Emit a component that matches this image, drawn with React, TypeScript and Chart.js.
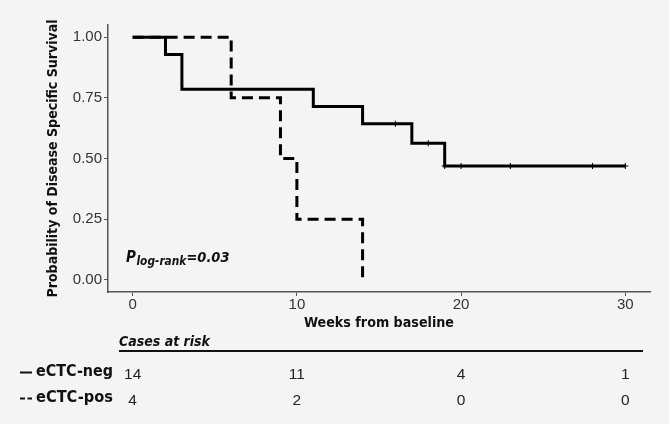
import React, { useEffect, useRef } from "react";
import { Chart, registerables } from "chart.js";

Chart.register(...registerables);

// ---- data ----
const negTimes = [0, 2, 3, 11, 14, 17, 19, 30];
const negSurv = [1, 0.9286, 0.7857, 0.7143, 0.6429, 0.5625, 0.4688, 0.4688];
const negCensorTimes = [16, 18, 19, 20, 23, 28, 30];
const negCensorSurv = [0.6429, 0.5625, 0.4688, 0.4688, 0.4688, 0.4688, 0.4688];
const posTimes = [0, 6, 9, 10, 14];
const posSurv = [1, 0.75, 0.5, 0.25, 0];
const xTicks = [0, 10, 20, 30];
const yTicks = [0, 0.25, 0.5, 0.75, 1];
const riskTimes = [0, 10, 20, 30];
const groupNames = ["eCTC-neg", "eCTC-pos"];
const riskNeg = [14, 11, 4, 1];
const riskPos = [4, 2, 0, 0];
const xTitle = "Weeks from baseline";
const yTitle = "Probability of Disease Specific Survival";
const riskTitle = "Cases at risk";
const pMain = "P";
const pSub = "log-rank";
const pValue = "=0.03";

const W = 669;
const H = 424;
const BOLD = '"DejaVu Sans Condensed", "DejaVu Sans", sans-serif';

function fitText(ctx: CanvasRenderingContext2D, text: string, x: number, y: number, width: number) {
  const w = ctx.measureText(text).width;
  ctx.save();
  ctx.translate(x, y);
  ctx.scale(width / w, 1);
  ctx.fillText(text, 0, 0);
  ctx.restore();
}

const overlay = {
  id: "overlay",
  afterDraw(chart: any) {
    const ctx = chart.ctx as CanvasRenderingContext2D;
    const { left, right, top, bottom } = chart.chartArea;
    const xs = chart.scales.x;
    const ys = chart.scales.y;
    ctx.save();
    ctx.fillStyle = "#111";
    ctx.strokeStyle = "#111";

    // y title
    ctx.save();
    ctx.font = `bold 14px ${BOLD}`;
    ctx.textAlign = "center";
    ctx.textBaseline = "middle";
    ctx.translate(53, (top + bottom) / 2);
    ctx.rotate(-Math.PI / 2);
    fitText(ctx, yTitle, 0, 0, 278);
    ctx.restore();

    // x title
    ctx.font = `bold 14px ${BOLD}`;
    ctx.textAlign = "center";
    ctx.textBaseline = "alphabetic";
    fitText(ctx, xTitle, (left + right) / 2, 327, 150);

    // p-value annotation
    let px = xs.getPixelForValue(-0.4);
    const py = ys.getPixelForValue(0.074);
    ctx.textAlign = "left";
    ctx.font = `italic bold 15px ${BOLD}`;
    ctx.fillText(pMain, px, py);
    px += ctx.measureText(pMain).width + 0.5;
    ctx.font = `italic bold 11.8px ${BOLD}`;
    ctx.fillText(pSub, px, py + 3);
    px += ctx.measureText(pSub).width;
    ctx.font = `italic bold 14.5px ${BOLD}`;
    ctx.fillText(pValue, px, py);

    // risk table header
    ctx.font = `italic bold 14px ${BOLD}`;
    fitText(ctx, riskTitle, 119, 346, 91);
    ctx.lineWidth = 2;
    ctx.beginPath();
    ctx.moveTo(119, 351);
    ctx.lineTo(643, 351);
    ctx.stroke();

    // legend keys
    const rowY = [372.5, 398.5];
    ctx.lineWidth = 2;
    ctx.beginPath();
    ctx.moveTo(20, rowY[0]);
    ctx.lineTo(32, rowY[0]);
    ctx.stroke();
    ctx.setLineDash([5, 2.5]);
    ctx.beginPath();
    ctx.moveTo(20, rowY[1]);
    ctx.lineTo(32, rowY[1]);
    ctx.stroke();
    ctx.setLineDash([]);

    ctx.font = `bold 15px ${BOLD}`;
    ctx.textBaseline = "middle";
    groupNames.forEach((g, i) => fitText(ctx, g, 36, rowY[i], 77));

    // risk numbers
    ctx.font = '15.5px "Liberation Sans"';
    ctx.textAlign = "center";
    ctx.fillStyle = "#222";
    const rows = [riskNeg, riskPos];
    rows.forEach((r, i) => {
      r.forEach((n, j) => {
        ctx.fillText(String(n), xs.getPixelForValue(riskTimes[j]), rowY[i] + 2);
      });
    });
    ctx.restore();
  },
};

export default function App() {
  const ref = useRef<HTMLCanvasElement | null>(null);
  useEffect(() => {
    if (!ref.current) return;
    const chart = new Chart(ref.current, {
      type: "line",
      data: {
        datasets: [
          {
            label: groupNames[0],
            data: negTimes.map((t, i) => ({ x: t, y: negSurv[i] })),
            stepped: true,
            borderColor: "#000",
            borderWidth: 3,
            pointRadius: 0,
            fill: false,
            borderCapStyle: "butt",
            borderJoinStyle: "miter",
          },
          {
            label: groupNames[1],
            data: posTimes.map((t, i) => ({ x: t, y: posSurv[i] })),
            stepped: true,
            borderColor: "#000",
            borderWidth: 3,
            borderDash: [11, 6],
            pointRadius: 0,
            fill: false,
            borderCapStyle: "butt",
            borderJoinStyle: "miter",
          },
          {
            label: "censor",
            data: negCensorTimes.map((t, i) => ({ x: t, y: negCensorSurv[i] })),
            showLine: false,
            pointStyle: "cross",
            pointRadius: 3,
            pointBorderWidth: 1.1,
            pointBorderColor: "#000",
            borderColor: "#000",
          },
        ],
      } as any,
      plugins: [overlay],
      options: {
        animation: false,
        responsive: false,
        maintainAspectRatio: false,
        layout: { padding: { left: 0, top: 25, right: 19, bottom: 0 } },
        plugins: {
          legend: { display: false },
          tooltip: { enabled: false },
        },
        scales: {
          x: {
            type: "linear",
            min: -1.5,
            max: 31.5,
            afterBuildTicks: (s: any) => {
              s.ticks = xTicks.map((v) => ({ value: v }));
            },
            afterFit: (s: any) => {
              s.height = 132;
            },
            ticks: {
              font: { family: "Liberation Sans", size: 15 },
              color: "#333",
              padding: 0,
              maxRotation: 0,
              autoSkip: false,
            },
            grid: {
              display: true,
              drawOnChartArea: false,
              drawTicks: true,
              tickLength: 4,
              color: "#555",
              lineWidth: 1,
            },
            border: { display: true, color: "#555", width: 1.5 },
          },
          y: {
            type: "linear",
            min: -0.05,
            max: 1.05,
            afterBuildTicks: (s: any) => {
              s.ticks = yTicks.map((v) => ({ value: v }));
            },
            afterFit: (s: any) => {
              s.width = 108;
            },
            ticks: {
              font: { family: "Liberation Sans", size: 15 },
              color: "#333",
              padding: 2,
              callback: (v: any) => Number(v).toFixed(2),
            },
            grid: {
              display: true,
              drawOnChartArea: false,
              drawTicks: true,
              tickLength: 4,
              color: "#555",
              lineWidth: 1,
            },
            border: { display: true, color: "#555", width: 1.5 },
          },
        },
      } as any,
    });
    return () => chart.destroy();
  }, []);
  return (
    <div style={{ position: "absolute", left: 0, top: 0, width: W, height: H, background: "#f4f4f4" }}>
      <canvas ref={ref} width={W} height={H} style={{ display: "block", width: W, height: H }} />
    </div>
  );
}
